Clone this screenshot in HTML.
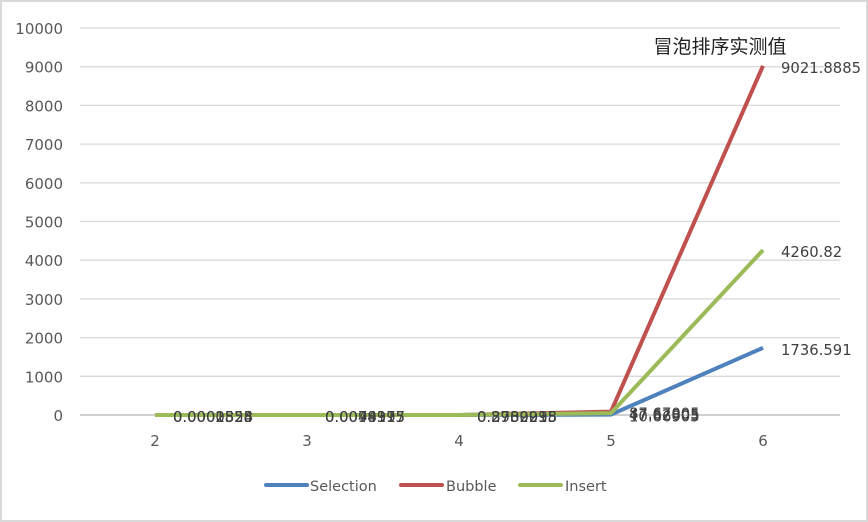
<!DOCTYPE html>
<html><head><meta charset="utf-8"><style>
body{margin:0;background:#fff}
svg{display:block}
text{font-family:"DejaVu Sans","Noto Sans CJK SC",sans-serif}
</style></head><body>
<svg id="c" width="868" height="522">
<rect x="1" y="1" width="866" height="520" fill="#fff" stroke="#d9d9d9" stroke-width="2"/>
<g id="grid"></g>
<g id="ylab"></g>
<g id="xlab"></g>
<g id="series"></g>
<g id="dl"></g>
<text x="720" y="53" font-size="19" fill="#222" text-anchor="middle" style="font-family:'Noto Sans CJK SC',sans-serif">冒泡排序实测值</text>
<g>
<g><line x1="266" y1="485" x2="307" y2="485" stroke="#4f81bd" stroke-width="4" stroke-linecap="round"/><text x="310" y="491" font-size="14.5" fill="#595959">Selection</text></g>
<g><line x1="401" y1="485" x2="442" y2="485" stroke="#c0504d" stroke-width="4" stroke-linecap="round"/><text x="446" y="491" font-size="14.5" fill="#595959">Bubble</text></g>
<g><line x1="520" y1="485" x2="561" y2="485" stroke="#9bbb59" stroke-width="4" stroke-linecap="round"/><text x="565" y="491" font-size="14.5" fill="#595959">Insert</text></g>
</g>
</svg>
<script>
const categories=["2","3","4","5","6"];
const yTicks=[0,1000,2000,3000,4000,5000,6000,7000,8000,9000,10000];
const selection=[0.000085,0.0048,0.37,10.6,1736.591];
const bubble=[0.00028,0.0099,0.88,87.6,9021.8885];
const insert=[0.00015,0.0075,0.29,47.6,4260.82];
const selectionLabels=["0.0000828","0.0048997","0.3702098","10.66905","1736.591"];
const bubbleLabels=["0.0002855","0.0099175","0.8780215","87.67005","9021.8885"];
const insertLabels=["0.0001524","0.0074315","0.2939935","47.62805","4260.82"];
const NS="http://www.w3.org/2000/svg";
const x=i=>155+i*152, y=v=>415-v*0.0387;
function mk(tag,attrs,parent,txt){const e=document.createElementNS(NS,tag);for(const k in attrs)e.setAttribute(k,attrs[k]);if(txt!=null)e.textContent=txt;document.getElementById(parent).appendChild(e);return e;}
yTicks.forEach(t=>{
 const l=mk('line',{x1:80,x2:840,y1:y(t),y2:y(t),stroke:t===0?'#bfbfbf':'#d9d9d9','stroke-width':t===0?1.5:1.3},'grid');
 
 
 const tx=mk('text',{x:63,y:y(t)+6,'font-size':15,fill:'#595959','text-anchor':'end'},'ylab',String(t));
 
 
});
categories.forEach((c,i)=>{
 const tx=mk('text',{x:x(i),y:446,'font-size':15,fill:'#595959','text-anchor':'middle'},'xlab',c);
 
 
});
[[selection,'#4f81bd','selection',selectionLabels],[bubble,'#c0504d','bubble',bubbleLabels],[insert,'#9bbb59','insert',insertLabels]].forEach(([d,col,n,labs])=>{
 const p=mk('polyline',{points:d.map((v,i)=>x(i)+','+y(v)).join(' '),fill:'none',stroke:col,'stroke-width':4,'stroke-linejoin':'round'},'series');
 
 
 d.forEach((v,i)=>{
  const t=mk('text',{x:x(i)+18,y:y(v)+7,'font-size':14.8,fill:'#404040'},'dl',labs[i]);
  
  
 });
});
</script>
</body></html>
